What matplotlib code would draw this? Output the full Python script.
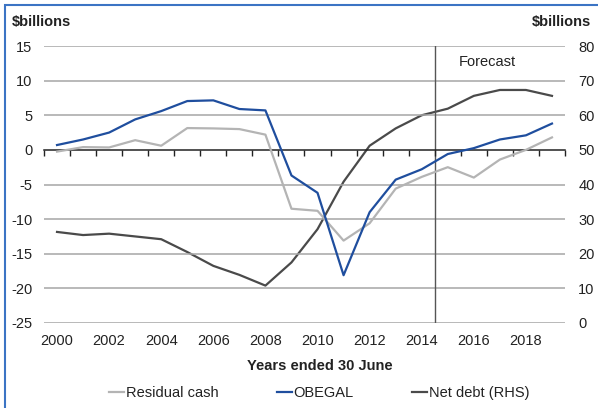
import matplotlib
matplotlib.use('Agg')
import matplotlib.pyplot as plt
from matplotlib.patches import Rectangle

plt.rcParams['font.family'] = ['Liberation Sans', 'DejaVu Sans']

# data
years = list(range(2000, 2020))
residual_cash = [-0.25, 0.4, 0.35, 1.4, 0.6, 3.15, 3.1, 3.0, 2.2, -8.5,
                 -8.8, -13.1, -10.6, -5.6, -3.9, -2.5, -4.0, -1.4, 0.0, 1.8]
obegal = [0.7, 1.5, 2.5, 4.4, 5.6, 7.05, 7.15, 5.9, 5.7, -3.7,
          -6.2, -18.1, -9.0, -4.3, -2.8, -0.6, 0.25, 1.5, 2.1, 3.8]
net_debt = [26.3, 25.4, 25.8, 25.0, 24.2, 20.5, 16.5, 13.9, 10.8, 17.5,
            27.1, 40.8, 51.2, 56.2, 60.0, 61.9, 65.6, 67.3, 67.3, 65.6]
year_labels = [2000, 2002, 2004, 2006, 2008, 2010, 2012, 2014, 2016, 2018]
left_ticks = [-25, -20, -15, -10, -5, 0, 5, 10, 15]
right_ticks = [0, 10, 20, 30, 40, 50, 60, 70, 80]
forecast_start = 2014.5

c_resid = '#b4b4b4'
c_obegal = '#1f4e9e'
c_debt = '#4a4a4a'
txt = '#222222'
fs = 10.5

fig = plt.figure(figsize=(5.98, 4.08), dpi=100)
ax = fig.add_axes([44 / 598, 1 - 323 / 408, 521 / 598, 277 / 408])
ax2 = ax.twinx()

# frame around the chart (only top/left visible in the reference)
fig.patches.append(Rectangle((5 / 598, -0.1), 1.2, 1 - 5 / 408 + 0.1,
                             transform=fig.transFigure, fill=False,
                             edgecolor='#3b74c4', linewidth=1.5))

ax.set_xlim(1999.5, 2019.5)
ax.set_ylim(-25, 15)
ax2.set_ylim(0, 80)

for v in left_ticks:
    if v != 0:
        ax.axhline(v, color='#a6a6a6', linewidth=1.1, zorder=0)

ax.axvline(forecast_start, color='#555555', linewidth=1.0, zorder=1)

ax.plot(years, residual_cash, color=c_resid, linewidth=1.6, label='Residual cash', zorder=3)
ax.plot(years, obegal, color=c_obegal, linewidth=1.6, label='OBEGAL', zorder=4)
ax2.plot(years, net_debt, color=c_debt, linewidth=1.6, label='Net debt (RHS)', zorder=3)

for a in (ax, ax2):
    for s in a.spines.values():
        s.set_visible(False)

# zero line with category boundary ticks hanging below it
ax.spines['bottom'].set_visible(True)
ax.spines['bottom'].set_position(('data', 0))
ax.spines['bottom'].set_color('#222222')
ax.spines['bottom'].set_linewidth(1.1)
ax.set_xticks([y - 0.5 for y in years] + [2019.5])
ax.tick_params(axis='x', direction='out', length=4, width=1.0,
               color='#222222', labelbottom=False)

sec = ax.secondary_xaxis(0)
sec.set_xticks(year_labels)
sec.set_xticklabels([str(y) for y in year_labels])
sec.tick_params(length=0, pad=8, labelsize=fs, labelcolor=txt)
sec.spines['bottom'].set_visible(False)

ax.set_yticks(left_ticks)
ax.set_yticklabels([str(v) for v in left_ticks])
ax.tick_params(axis='y', length=0, pad=8.5, labelsize=fs, labelcolor=txt)
ax2.set_yticks(right_ticks)
ax2.tick_params(axis='y', length=0, pad=9.5, labelsize=fs, labelcolor=txt)

ax2.set_zorder(ax.get_zorder() - 1)
ax.patch.set_visible(False)

fig.text(12 / 598, 1 - 22 / 408, '$billions', fontsize=10.5, fontweight='bold',
         color=txt, ha='left', va='center')
fig.text(591 / 598, 1 - 22 / 408, '$billions', fontsize=10.5, fontweight='bold',
         color=txt, ha='right', va='center')
fig.text(487 / 598, 1 - 62 / 408, 'Forecast', fontsize=fs, color=txt,
         ha='center', va='center')
fig.text(320 / 598, 1 - 366 / 408, 'Years ended 30 June', fontsize=fs,
         fontweight='bold', color=txt, ha='center', va='center')

handles = ax.get_lines()[-2:] + ax2.get_lines()
handles = [h for h in handles if h.get_label() in ('Residual cash', 'OBEGAL', 'Net debt (RHS)')]
leg = fig.legend(handles, [h.get_label() for h in handles], ncol=3,
                 loc='center', bbox_to_anchor=(319 / 598, 1 - 393 / 408),
                 frameon=False, fontsize=fs, handlelength=1.05,
                 handletextpad=0.1, columnspacing=4.0, borderpad=0)
for t in leg.get_texts():
    t.set_color(txt)

fig.savefig('out.png', dpi=100)
